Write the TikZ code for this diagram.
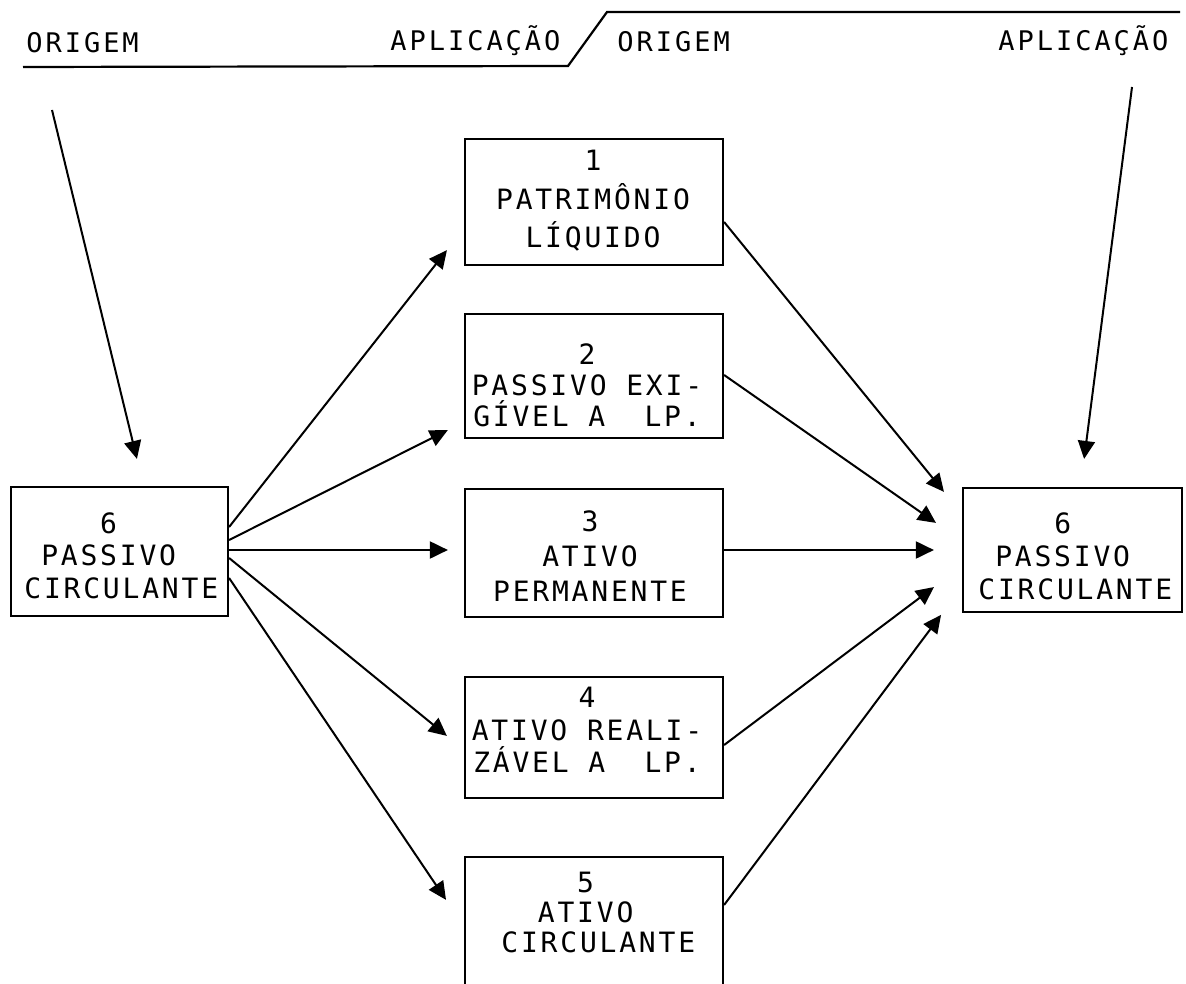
\documentclass[tikz,border=0pt]{standalone}
\usepackage{fontspec}
\usetikzlibrary{arrows.meta,calc}
% typewriter-like lettering: monospaced sans with extra letter spacing
\newfontfamily\hdrfont[LetterSpace=11]{DejaVu Sans Mono}
\newfontfamily\boxfont[LetterSpace=10]{DejaVu Sans Mono}

\tikzset{
  box/.style={draw, line width=1.1pt, inner sep=0pt, minimum width=129pt},
  lbl/.style={inner sep=0pt, anchor=north, align=center},
  lblL/.style={inner sep=0pt, anchor=north west, align=left},
  hdr/.style={inner sep=0pt, anchor=base west, font=\hdrfont\fontsize{13.5}{15}\selectfont},
  rule/.style={line width=1.1pt},
  arr/.style={line width=1pt, -{Triangle[length=9pt,width=8.5pt]}},
}

\begin{document}
\begin{tikzpicture}[x=0.5pt, y=-0.5pt]
  \fill[white] (0,0) rectangle (1186,983);
  \useasboundingbox (0,0) rectangle (1186,983);

  % heading rule with its step
  \draw[rule] (23,67) -- (568,66) -- (607,12) -- (1180,12);
  \node[hdr] (h1) at (26,53) {ORIGEM};
  \node[hdr] (h2) at (390,51) {APLICAÇÃO};
  \node[hdr] (h3) at (617,52) {ORIGEM};
  \node[hdr] (h4) at (998,51) {APLICAÇÃO};

  % central column of accounts
  \node[box, minimum height=63pt]   (b1) at (594,202)   {};
  \node[box, minimum height=62pt]   (b2) at (594,376)   {};
  \node[box, minimum height=64pt]   (b3) at (594,553)   {};
  \node[box, minimum height=60.5pt] (b4) at (594,737.5) {};
  \node[box, minimum height=64pt]   (b5) at (594,921)   {};

  % current liabilities on both sides
  \node[box, minimum width=108.5pt, minimum height=64.5pt] (pl) at (119.5,551.5) {};
  \node[box, minimum width=109.5pt, minimum height=62pt]   (pr) at (1072.5,550) {};

  % texts
  \node[lbl, font=\boxfont\fontsize{14}{19.25}\selectfont] (t1) at (593,150)
    {1\\PATRIMÔNIO\\LÍQUIDO};
  \node[lbl, font=\boxfont\fontsize{14}{15.5}\selectfont] (t2) at (587,343)
    {2\\PASSIVO EXI-\\GÍVEL A~~LP.};
  \node[lbl, font=\boxfont\fontsize{14}{17.5}\selectfont] (t3) at (590,510)
    {3\\ATIVO\\PERMANENTE};
  \node[lbl, font=\boxfont\fontsize{14}{16.25}\selectfont] (t4) at (587,687)
    {4\\ATIVO REALI-\\ZÁVEL A~~LP.};
  \node[lblL, font=\boxfont\fontsize{14}{15}\selectfont] (t5) at (501,872)
    {\hphantom{0000}5\\\hphantom{00}ATIVO\\CIRCULANTE};
  \node[lblL, font=\boxfont\fontsize{14}{16.25}\selectfont] (tl) at (24,512)
    {\hphantom{0000}6\\\hphantom{0}PASSIVO\\CIRCULANTE};
  \node[lblL, font=\boxfont\fontsize{14}{16.5}\selectfont] (tr) at (978,512)
    {\hphantom{0000}6\\\hphantom{0}PASSIVO\\CIRCULANTE};

  % arrows coming down from the heading
  \coordinate (o1) at (52,110);
  \coordinate (o2) at (1132,87);
  \draw[arr, shorten >=13.9pt] (o1) -- ($(pl.north)+(24,0)$);
  \draw[arr, shorten >=14.1pt] (o2) -- ($(pr.north)+(8,0)$);

  % origin fan
  \draw[arr, shorten >=13.7pt] ($(pl.east)+(0,-24.5)$) -- ($(b1.west)+(0,26.6)$);
  \draw[arr, shorten >=9pt]    ($(pl.east)+(0,-11.5)$) -- ($(b2.west)+(0,46)$);
  \draw[arr, shorten >=8pt]    ($(pl.east)+(0,-1.5)$)  -- ($(b3.west)+(0,-3)$);
  \draw[arr, shorten >=11pt]   ($(pl.east)+(0,6.5)$)   -- ($(b4.west)+(0,12.3)$);
  \draw[arr, shorten >=16pt]   ($(pl.east)+(0,26.5)$)  -- ($(b5.west)+(0,5.4)$);

  % application fan
  \draw[arr, shorten >=14.2pt] ($(b1.east)+(0,20)$)  -- ($(pr.west)+(0,-36.1)$);
  \draw[arr, shorten >=15.8pt] ($(b2.east)+(0,-1)$)  -- ($(pr.west)+(0,-9)$);
  \draw[arr, shorten >=14pt]   ($(b3.east)+(0,-3)$)  -- (pr.west);
  \draw[arr, shorten >=17.5pt] ($(b4.east)+(0,7.5)$) -- ($(pr.west)+(0,16)$);
  \draw[arr, shorten >=17.4pt] ($(b5.east)+(0,-16)$) -- ($(pr.west)+(0,37)$);
\end{tikzpicture}
\end{document}
